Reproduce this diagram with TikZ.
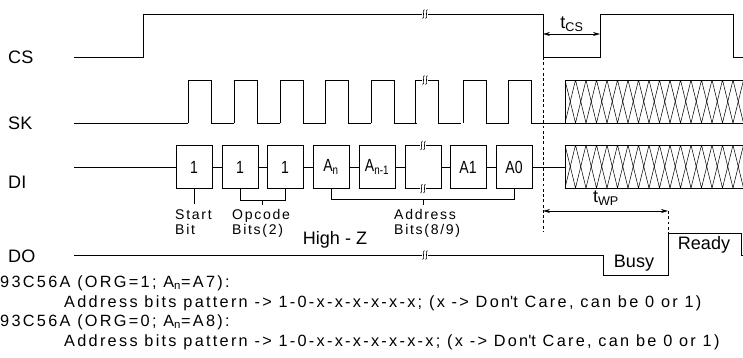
\documentclass[tikz,border=0pt]{standalone}
\usepackage{fontspec}
\setmainfont{Liberation Sans}
\newfontfamily\narrowfont[FakeStretch=0.8]{Liberation Sans}
\newfontfamily\spacedfont[LetterSpace=12]{Liberation Sans}
\newfontfamily\remarkfont[LetterSpace=14]{Liberation Sans}
\usetikzlibrary{arrows.meta}
\tikzset{
	wave/.style = {line width=0.7pt},
	bitbox/.style = {
		draw,
		line width=0.7pt,
		minimum width=1.08cm,
		minimum height=1.29cm,
		inner sep=0pt,
		font=\narrowfont\fontsize{15}{16}\selectfont
	},
	signame/.style = {anchor=west, inner sep=0pt, font=\fontsize{15.4}{18}\selectfont},
	fieldname/.style = {anchor=north west, align=left, inner sep=0pt, font=\spacedfont\fontsize{12}{12.8}\selectfont},
	remark/.style = {anchor=west, inner sep=0pt, font=\remarkfont\fontsize{13.9}{15}\selectfont},
	state/.style = {inner sep=0pt, font=\fontsize{15.4}{18}\selectfont},
	guide/.style = {line width=0.5pt, dash pattern=on 2.5pt off 2pt},
	span/.style = {line width=0.7pt, {Stealth[length=6pt,width=3.5pt]}-{Stealth[length=6pt,width=3.5pt]}},
	hatch/.style = {line width=0.45pt}
}
\newcommand{\brkmark}[2]{%
	\fill[white] (#1-3,#2-5) rectangle (#1+3,#2+5);
	\draw[line width=0.5pt] (#1-0.5,#2-4.5) .. controls (#1-3.5,#2-4.5) and (#1+0.5,#2+4.5) .. (#1-2.5,#2+4.5);
	\draw[line width=0.5pt] (#1+2.5,#2-4.5) .. controls (#1-0.5,#2-4.5) and (#1+3.5,#2+4.5) .. (#1+0.5,#2+4.5);
}
\newcommand{\xfill}[2]{%
	\draw[wave] (565,#1) -- (743,#1) (565,#1) -- (565,#2) -- (743,#2);
	\begin{scope}
		\clip (565,#1) rectangle (743,#2);
		\foreach \j in {0,...,8} {
			\draw[hatch] (565+\j*21,#2) -- (575.5+\j*21,#1) -- (586+\j*21,#2);
			\draw[hatch] (565+\j*21,#1) -- (575.5+\j*21,#2) -- (586+\j*21,#1);
		}
	\end{scope}
}

\begin{document}
\begin{tikzpicture}[x=0.03cm, y=-0.03cm]
	\useasboundingbox (0,0) rectangle (743,358);

	\node[signame] (cs) at (8,57) {CS};
	\node[signame] (sk) at (8,123) {SK};
	\node[signame] (di) at (8,182) {DI};
	\node[signame] (do) at (8,256) {DO};

	\draw[wave] (74,57) -- (143,57) -- (143,14) -- (543,14) -- (543,57)
		-- (600,57) -- (600,14) -- (733,14) -- (733,57) -- (743,57);
	\brkmark{425}{14}

	\draw[wave] (74,123) -- (188,123);
	\foreach \r in {188,234,280,325,371,415,463,508}
		\draw[wave] (\r,123) -- (\r,80) -- (\r+23,80) -- (\r+23,123) -- (\r+46,123);
	\draw[wave] (531,123) -- (565,123);
	\brkmark{425}{80}
	\xfill{80}{123}

	\node[bitbox] (b1) at (194,167) {1};
	\node[bitbox] (b2) at (240,167) {1};
	\node[bitbox] (b3) at (285,167) {1};
	\node[bitbox] (b4) at (331,167) {A\textsubscript{n}};
	\node[bitbox] (b5) at (377,167) {A\textsubscript{n-1}};
	\node[bitbox] (b6) at (423,167) {};
	\node[bitbox] (b7) at (468,167) {A1};
	\node[bitbox] (b8) at (514,167) {A0};
	\coordinate (distart) at (74,167);
	\coordinate (diend) at (565,167);
	\draw[wave] (distart) -- (b1.west);
	\foreach \a/\b in {b1/b2,b2/b3,b3/b4,b4/b5,b5/b6,b6/b7,b7/b8}
		\draw[wave] (\a.east) -- (\b.west);
	\draw[wave] (b8.east) -- (diend);
	\brkmark{423}{145.5}
	\brkmark{423}{188.5}
	\xfill{145}{188}

	\draw[wave] (b1.south) -- ++(0,15);
	\draw[wave] (b2.south) -- ++(0,11.5) -| (b3.south);
	\draw[wave] (262,200) -- (262,205);
	\draw[wave] (b4.south) -- ++(0,10.5) -| (b8.south);
	\draw[wave] (423,199) -- (423,205);
	\node[fieldname] (startbit) at (175,209) {Start\\Bit};
	\node[fieldname] (opcode) at (232,209) {Opcode\\Bits(2)};
	\node[fieldname] (address) at (394,209) {Address\\Bits(8/9)};

	\draw[guide] (543,57) -- (543,232);
	\coordinate (csfall) at (543,34);
	\coordinate (csrise) at (600,34);
	\draw[span] (csfall) -- (csrise);
	\node[state] (tcs) at (572,24) {t\textsubscript{CS}};
	\coordinate (wpstart) at (543,211);
	\coordinate (wpend) at (668,211);
	\draw[span] (wpstart) -- (wpend);
	\draw[guide] (wpend) -- (668,233);
	\node[state] (twp) at (606,198) {t\textsubscript{WP}};

	\draw[wave] (74,255) -- (603,255) -- (603,275) -- (668,275) -- (668,233)
		-- (741,233) -- (741,255) -- (743,255);
	\brkmark{425}{255}
	\node[state] (highz) at (335,240) {High - Z};
	\node[state] (busy) at (634,263) {Busy};
	\node[state] (ready) at (704,245) {Ready};

	\node[remark] (org1) at (0,283) {93C56A (ORG=1; A\textsubscript{n}=A7):};
	\node[remark] (pat1) at (64,303) {Address bits pattern -> 1-0-x-x-x-x-x-x; (x -> Don\textquotesingle t Care, can be 0 or 1)};
	\node[remark] (org0) at (0,322) {93C56A (ORG=0; A\textsubscript{n}=A8):};
	\node[remark] (pat0) at (64,342) {Address bits pattern -> 1-0-x-x-x-x-x-x-x; (x -> Don\textquotesingle t Care, can be 0 or 1)};
\end{tikzpicture}
\end{document}
